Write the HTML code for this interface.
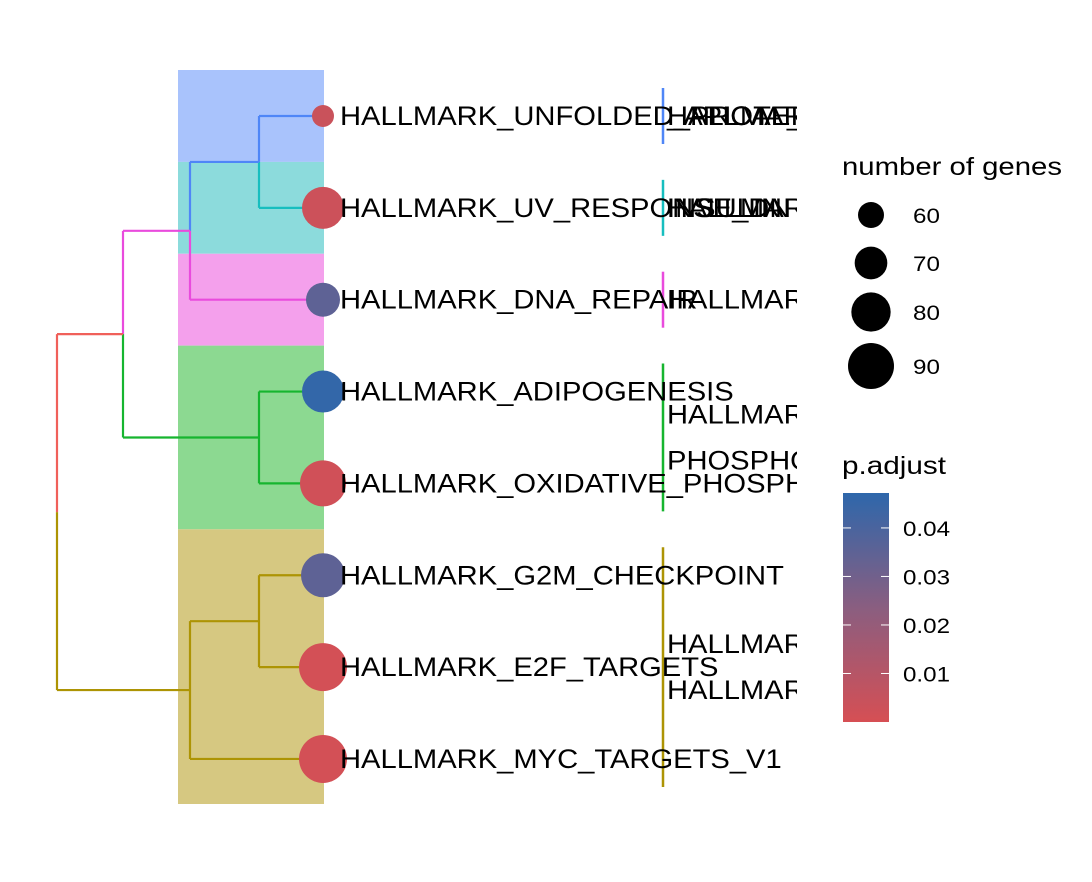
<!DOCTYPE html>
<html><head><meta charset="utf-8"><style>
html,body{margin:0;padding:0;background:#fff}
svg{display:block;font-family:"Liberation Sans",Arial,sans-serif}
</style></head><body>
<svg id="chart" width="1092" height="882" viewBox="0 0 1092 882">
<defs>
<clipPath id="clip"><rect x="0" y="0" width="797" height="882"/></clipPath>
<linearGradient id="cbar" x1="0" y1="1" x2="0" y2="0">
<stop offset="0" stop-color="#D64F54"/><stop offset="0.5" stop-color="#8A5E80"/><stop offset="1" stop-color="#2E67AB"/>
</linearGradient>
</defs>
<g id="clades"></g>
<g id="tree"></g>
<g id="points"></g>
<g id="labels" clip-path="url(#clip)"></g>
<g id="cladelab" clip-path="url(#clip)"></g>
<g id="legend"></g>
</svg>
<script>
const terms = ["HALLMARK_UNFOLDED_PROTEIN_RESPONSE","HALLMARK_UV_RESPONSE_DN","HALLMARK_DNA_REPAIR","HALLMARK_ADIPOGENESIS","HALLMARK_OXIDATIVE_PHOSPHORYLATION","HALLMARK_G2M_CHECKPOINT","HALLMARK_E2F_TARGETS","HALLMARK_MYC_TARGETS_V1"];
const shownLabels = ["HALLMARK_UNFOLDED_PROTEIN_RESPONSE","HALLMARK_UV_RESPONSE_DN","HALLMARK_DNA_REPAIR","HALLMARK_ADIPOGENESIS","HALLMARK_OXIDATIVE_PHOSPHORYLATION","HALLMARK_G2M_CHECKPOINT","HALLMARK_E2F_TARGETS","HALLMARK_MYC_TARGETS_V1"];
const geneCounts = [54, 84, 72, 84, 90, 87, 93, 93];
const pAdjust = [0.004, 0.003, 0.035, 0.046, 0.002, 0.035, 0.001, 0.001];
const sizeTicks = [60, 70, 80, 90];
const colorTicks = [0.01, 0.02, 0.03, 0.04];
const cladeColors = ["#4F86F7","#17BEBF","#E94BDD","#16B52F","#AD9404"];
const cladeFill = ["#A9C3FC","#8CDBDC","#F4A0EC","#8CD991","#D6C881"];
const cladeStart = [0,1,2,3,5];
const cladeEnd = [0,1,2,4,7];
const cladeText = [["HALLMARK_PROTEIN","_APICAL_MAT"],["HALLMARK_UV_DAR","INSULIN"],["HALLMARK"],["HALLMARK","PHOSPHO"],["HALLMARK","HALLMARK"]];

const NS="http://www.w3.org/2000/svg";
const yRow = i => 116 + i*91.85;
const rSize = n => 13 + (n-60)/3;
const cbTop=493, cbBot=722, pMax=0.0472;
const yCol = p => cbBot - p/pMax*(cbBot-cbTop);
function colP(p){
  const t=Math.max(0,Math.min(1,p/pMax));
  const a=[214,79,84], m=[138,94,128], b=[46,103,171];
  let c; if(t<0.5){const u=t/0.5;c=a.map((v,k)=>v+(m[k]-v)*u);} else {const u=(t-0.5)/0.5;c=m.map((v,k)=>v+(b[k]-v)*u);}
  return `rgb(${c.map(Math.round).join(',')})`;
}
function mk(tag,attrs,parent){const e=document.createElementNS(NS,tag);for(const k in attrs)e.setAttribute(k,attrs[k]);parent.appendChild(e);return e;}
function widen(el,f){const w=el.getComputedTextLength();el.setAttribute('textLength',(w*f).toFixed(1));el.setAttribute('lengthAdjust','spacingAndGlyphs');}

const gC=document.getElementById('clades');
cladeStart.forEach((s,i)=>{
  const y0 = s===0?70:(yRow(s)+yRow(s-1))/2;
  const y1 = cladeEnd[i]===7?804:(yRow(cladeEnd[i])+yRow(cladeEnd[i]+1))/2;
  const r=mk('rect',{x:178,y:y0,width:146,height:y1-y0,fill:cladeFill[i]},gC);
  
  
  const l=mk('line',{x1:663,x2:663,y1:yRow(s)-28,y2:yRow(cladeEnd[i])+28,stroke:cladeColors[i],'stroke-width':2.5},gC);
  
  
});

const gT=document.getElementById('tree');
function seg(x1,y1,x2,y2,c){const l=mk('line',{x1,y1,x2,y2,stroke:c,'stroke-width':2.2},gT);
  
  }
const C=cladeColors;
const n01=(yRow(0)+yRow(1))/2, n012=(n01+yRow(2))/2, n34=(yRow(3)+yRow(4))/2, nA=(n012+n34)/2;
const n56=(yRow(5)+yRow(6))/2, n567=(n56+yRow(7))/2, root=(nA+n567)/2;
seg(259,yRow(0),323,yRow(0),C[0]); seg(259,yRow(0),259,n01,C[0]);
seg(259,yRow(1),323,yRow(1),C[1]); seg(259,yRow(1),259,n01,C[1]);
seg(190,n01,259,n01,C[0]); seg(190,n01,190,n012,C[0]);
seg(190,yRow(2),323,yRow(2),C[2]); seg(190,yRow(2),190,n012,C[2]);
seg(123,n012,190,n012,C[2]); seg(123,n012,123,nA,C[2]);
seg(259,yRow(3),323,yRow(3),C[3]); seg(259,yRow(4),323,yRow(4),C[3]); seg(259,yRow(3),259,yRow(4),C[3]);
seg(123,n34,259,n34,C[3]); seg(123,n34,123,nA,C[3]);
seg(57,nA,123,nA,"#F0605A"); seg(57,nA,57,root,"#F0605A");
seg(259,yRow(5),323,yRow(5),C[4]); seg(259,yRow(6),323,yRow(6),C[4]); seg(259,yRow(5),259,yRow(6),C[4]);
seg(190,n56,259,n56,C[4]); seg(190,yRow(7),323,yRow(7),C[4]); seg(190,n56,190,yRow(7),C[4]);
seg(57,n567,190,n567,C[4]); seg(57,root,57,n567,C[4]);

const gP=document.getElementById('points'), gL=document.getElementById('labels');
terms.forEach((t,i)=>{
  const c=mk('circle',{cx:323,cy:yRow(i),r:rSize(geneCounts[i]),fill:colP(pAdjust[i])},gP);
  
  
  const tx=mk('text',{x:340,y:yRow(i)+9,'font-size':26.5,fill:'#000'},gL);
  tx.textContent=shownLabels[i];
  
  
  widen(tx,1.1);
});
const gCL=document.getElementById('cladelab');
cladeText.forEach((arr,i)=>{
  const mid=(yRow(cladeStart[i])+yRow(cladeEnd[i]))/2;
  arr.forEach((s,k)=>{
    let y = arr.length===1||i<2 ? mid+9 : mid+9+(k===0?-23:23);
    const tx=mk('text',{x:667,y,'font-size':26.5,fill:'#000'},gCL);
    tx.textContent=s;
    
    
    widen(tx,1.1);
  });
});

const gLg=document.getElementById('legend');
let t=mk('text',{x:842,y:175,'font-size':25,fill:'#000',textLength:220,lengthAdjust:'spacingAndGlyphs'},gLg); t.textContent='number of genes';


const sizeY=[215,263,312,366];
sizeTicks.forEach((v,k)=>{
  const c=mk('circle',{cx:871,cy:sizeY[k],r:rSize(v),fill:'#000'},gLg);
  
  
  const tx=mk('text',{x:913,y:sizeY[k]+8,'font-size':21,fill:'#000'},gLg); tx.textContent=v;
  
  
  widen(tx,1.15);
});
t=mk('text',{x:842,y:474,'font-size':25,fill:'#000',textLength:104,lengthAdjust:'spacingAndGlyphs'},gLg); t.textContent='p.adjust';


const cb=mk('rect',{x:843,y:cbTop,width:46,height:cbBot-cbTop,fill:'url(#cbar)'},gLg);


colorTicks.forEach(v=>{
  const y=yCol(v);
  mk('line',{x1:843,x2:851,y1:y,y2:y,stroke:'#fff','stroke-width':1},gLg);
  mk('line',{x1:881,x2:889,y1:y,y2:y,stroke:'#fff','stroke-width':1},gLg);
  const tx=mk('text',{x:903,y:y+8,'font-size':21,fill:'#000'},gLg); tx.textContent=v.toFixed(2);
  
  
  widen(tx,1.15);
});
</script>
</body></html>
